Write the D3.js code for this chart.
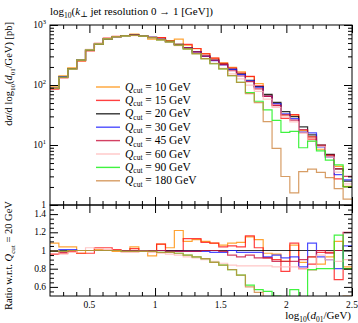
<!DOCTYPE html>
<html>
<head>
<meta charset="utf-8">
<script src="https://cdn.jsdelivr.net/npm/d3@7"></script>
<style>
  body { margin: 0; background: #fff; }
  text { font-family: "Liberation Serif", "DejaVu Serif", serif; fill: #000; }
</style>
</head>
<body>
<svg id="chart" width="358" height="323"></svg>
<script>
// log10(d01) binning: 34 equal bins between 0.2 and 2.5
const xDomain = [0.2, 2.5];
const nBins = 34;

// Qcut = 20 GeV reference histogram, dsigma/dlog10(d01) [pb]
const ref20 = [89, 136, 185, 260, 380, 480, 585, 640, 665, 680, 660, 620, 575, 535, 475, 420, 359, 303,
  260, 221, 182, 152, 120, 94, 70, 51.5, 36, 29.6, 20, 14.7, 10, 7, 4, 2.5];

// ratios w.r.t. Qcut = 20 GeV, read bin by bin
const ratio10 = [1.08, 1.04, 1.04, 0.97, 1.0, 1.01, 1.0, 0.99, 1.0, 1.04, 1.0, 0.94, 1.07, 1.03, 1.22, 1.10, 1.12,
  1.10, 1.08, 1.06, 1.08, 1.09, 1.15, 1.12, 0.97, 0.96, 0.88, 1.06, 0.87, 0.93, 0.85, 0.93, 1.1, 0.82];
const ratio15 = [0.96, 0.97, 0.99, 0.97, 0.97, 1.03, 1.03, 1.01, 1.0, 1.02, 0.99, 0.99, 1.07, 1.0, 1.0, 1.13, 1.13,
  1.09, 1.08, 1.04, 1.05, 1.04, 1.16, 1.03, 0.92, 0.9, 0.77, 1.08, 0.8, 0.85, 0.98, 0.98, 0.68, 0.8];
const ratio20 = ref20.map(() => 1);
const ratio30 = [1.0, 1.01, 1.01, 1.0, 1.0, 1.0, 1.0, 1.0, 1.0, 1.0, 1.0, 1.0, 1.0, 0.99, 0.99, 0.99, 0.99,
  0.99, 0.98, 0.98, 1.0, 0.98, 0.98, 0.98, 0.93, 0.95, 0.92, 0.93, 0.82, 1.08, 0.93, 0.9, 0.8, 1.05];
const ratio45 = [1.0, 0.98, 1.0, 1.0, 1.0, 1.0, 1.0, 1.0, 1.0, 1.0, 1.0, 1.0, 1.0, 0.99, 0.99, 0.99, 0.99,
  1.0, 1.0, 0.99, 0.95, 0.93, 0.95, 0.92, 0.92, 0.88, 0.88, 0.88, 0.9, 0.93, 1.0, 0.97, 1.0, 1.2];
const ratio60 = [1.0, 0.96, 0.98, 1.0, 1.03, 1.02, 1.01, 1.0, 0.98, 0.98, 0.99, 0.98, 0.97, 0.96, 0.95, 0.93, 0.92,
  0.9, 0.88, 0.86, 0.84, 0.83, 0.83, 0.83, 0.83, 0.82, 0.82, 0.82, 0.8, 0.78, 0.95, 0.9, 0.88, 0.9];
const ratio90 = [0.99, 0.99, 1.0, 1.0, 1.0, 1.0, 1.0, 1.0, 0.99, 0.99, 0.99, 0.99, 0.98, 0.98, 0.97, 0.95, 0.93,
  0.91, 0.87, 0.84, 0.79, 0.73, 0.62, 0.57, 0.55, 0.5, 0.45, 0.57, 0.45, 0.79, 0.8, 0.8, 1.17, 0.8];
const ratio180 = [0.99, 0.99, 1.0, 1.0, 1.0, 1.0, 1.0, 1.0, 0.99, 0.99, 0.99, 0.99, 0.98, 0.98, 0.97, 0.95, 0.93,
  0.91, 0.87, 0.84, 0.79, 0.73, 0.6, 0.54, 0.35, 0.17, 0.083, 0.054, 0.18, 0.27, 0.35, 0.41, 0.47, 0.5];

const qcutLabels = ["10", "15", "20", "30", "45", "60", "90", "180"];
const ratios = [ratio10, ratio15, ratio20, ratio30, ratio45, ratio60, ratio90, ratio180];
const colors = ["#ff8c00", "#ff1010", "#000000", "#2020ff", "#c8103c", "#ffb8b8", "#10f010", "#cd853f"];

const xTicks = [0.5, 1, 1.5, 2, 2.5];
const ratioTicks = [0.6, 0.8, 1, 1.2, 1.4];
const mainTicks = [1, 10, 100, 1000];

const left = 50, right = 352, mainTop = 25, mainBottom = 205, ratioBottom = 296;

const svg = d3.select("#chart");

const x = d3.scaleLinear().domain(xDomain).range([left, right]);
const yMain = d3.scaleLog().domain([1, 1000]).range([mainBottom, mainTop]);
const yRatio = d3.scaleLinear().domain([0.5, 1.5]).range([ratioBottom, mainBottom]);

const edges = d3.range(nBins + 1).map(i => xDomain[0] + i * (xDomain[1] - xDomain[0]) / nBins);

const defs = svg.append("defs");
defs.append("clipPath").attr("id", "clipMain").append("rect")
  .attr("x", left).attr("y", mainTop).attr("width", right - left).attr("height", mainBottom - mainTop);
defs.append("clipPath").attr("id", "clipRatio").append("rect")
  .attr("x", left).attr("y", mainBottom).attr("width", right - left).attr("height", ratioBottom - mainBottom);

const stepPoints = vals => vals.map((v, i) => [edges[i], v]).concat([[edges[nBins], vals[nBins - 1]]]);

const mainLine = d3.line().x(d => x(d[0])).y(d => yMain(Math.max(d[1], 0.5))).curve(d3.curveStepAfter);
const ratioLine = d3.line().x(d => x(d[0])).y(d => yRatio(d[1])).curve(d3.curveStepAfter);

const mainG = svg.append("g").attr("clip-path", "url(#clipMain)");
const ratioG = svg.append("g").attr("clip-path", "url(#clipRatio)");

ratios.forEach((r, k) => {
  const vals = r.map((v, i) => v * ref20[i]);
  mainG.append("path")
    .datum(stepPoints(vals))
    .attr("d", mainLine)
    .attr("fill", "none")
    .attr("stroke", colors[k])
    .attr("stroke-width", 1.2)
    .attr("stroke-opacity", 0.8);
  ratioG.append("path")
    .datum(stepPoints(r))
    .attr("d", ratioLine)
    .attr("fill", "none")
    .attr("stroke", colors[k])
    .attr("stroke-width", 1.2)
    .attr("stroke-opacity", 0.8);
});

// frames
svg.append("rect").attr("x", left).attr("y", mainTop).attr("width", right - left).attr("height", mainBottom - mainTop)
  .attr("fill", "none").attr("stroke", "#000").attr("stroke-width", 1);
svg.append("rect").attr("x", left).attr("y", mainBottom).attr("width", right - left).attr("height", ratioBottom - mainBottom)
  .attr("fill", "none").attr("stroke", "#000").attr("stroke-width", 1);

// axes helper: ticks only
const tickAxis = (axisFn, scale, values, size, tx, ty) => {
  const g = svg.append("g").attr("transform", `translate(${tx},${ty})`)
    .call(axisFn(scale).tickValues(values).tickSize(size).tickFormat(""));
  g.select(".domain").remove();
  g.selectAll("line").attr("stroke", "#000").attr("stroke-width", 1);
  return g;
};

const xMinor = d3.range(3, 25).map(i => i / 10).filter(v => !xTicks.includes(v));
// main panel top and bottom, ratio top and bottom
tickAxis(d3.axisBottom, x, xTicks, 8, 0, mainTop);
tickAxis(d3.axisBottom, x, xMinor, 4, 0, mainTop);
tickAxis(d3.axisTop, x, xTicks, 8, 0, mainBottom);
tickAxis(d3.axisTop, x, xMinor, 4, 0, mainBottom);
tickAxis(d3.axisBottom, x, xTicks, 8, 0, mainBottom);
tickAxis(d3.axisBottom, x, xMinor, 4, 0, mainBottom);
tickAxis(d3.axisTop, x, xTicks, 8, 0, ratioBottom);
tickAxis(d3.axisTop, x, xMinor, 4, 0, ratioBottom);

const logMinor = [];
[1, 10, 100].forEach(d => d3.range(2, 10).forEach(m => logMinor.push(d * m)));
tickAxis(d3.axisRight, yMain, mainTicks, 8, left, 0);
tickAxis(d3.axisRight, yMain, logMinor, 4, left, 0);
tickAxis(d3.axisLeft, yMain, mainTicks, 8, right, 0);
tickAxis(d3.axisLeft, yMain, logMinor, 4, right, 0);

const rMinor = d3.range(11, 30).map(i => i * 0.05).filter(v => !ratioTicks.some(t => Math.abs(t - v) < 1e-6));
tickAxis(d3.axisRight, yRatio, ratioTicks, 8, left, 0);
tickAxis(d3.axisRight, yRatio, rMinor, 4, left, 0);
tickAxis(d3.axisLeft, yRatio, ratioTicks, 8, right, 0);
tickAxis(d3.axisLeft, yRatio, rMinor, 4, right, 0);

// tick labels
mainTicks.forEach(d => {
  const t = svg.append("text").attr("x", left - 4).attr("y", yMain(d) + 3).attr("text-anchor", "end").attr("font-size", 9.5);
  if (d === 1) { t.text("1"); return; }
  t.append("tspan").text("10");
  t.append("tspan").attr("dy", -4).attr("font-size", 6.5).text(Math.round(Math.log10(d)));
});
ratioTicks.forEach(d => {
  svg.append("text").attr("x", left - 4).attr("y", yRatio(d) + 3).attr("text-anchor", "end").attr("font-size", 9.5)
    .text(d === 1 ? "1" : d3.format(".1f")(d));
});
xTicks.forEach(d => {
  svg.append("text").attr("x", x(d)).attr("y", 308).attr("text-anchor", "middle").attr("font-size", 9.5)
    .text(d3.format("")(d));
});

// title
const title = svg.append("text").attr("x", left).attr("y", 15).attr("font-size", 11);
title.append("tspan").text("log");
title.append("tspan").attr("dy", 3).attr("font-size", 7.5).text("10");
title.append("tspan").attr("dy", -3).text("(");
title.append("tspan").attr("font-style", "italic").text("k");
title.append("tspan").attr("dy", 2).attr("font-size", 8).text("⊥");
title.append("tspan").attr("dy", -2).text(" jet resolution 0 → 1 [GeV])");

// x label
const xl = svg.append("text").attr("x", right - 1).attr("y", 319).attr("text-anchor", "end").attr("font-size", 11);
xl.append("tspan").text("log");
xl.append("tspan").attr("dy", 3).attr("font-size", 7.5).text("10");
xl.append("tspan").attr("dy", -3).text("(");
xl.append("tspan").attr("font-style", "italic").text("d");
xl.append("tspan").attr("dy", 3).attr("font-size", 7.5).text("01");
xl.append("tspan").attr("dy", -3).text("/GeV)");

// y labels
const yl = svg.append("text").attr("transform", "translate(12,22) rotate(-90)").attr("text-anchor", "end").attr("font-size", 10.5);
yl.append("tspan").text("d");
yl.append("tspan").attr("font-style", "italic").text("σ");
yl.append("tspan").text("/d log");
yl.append("tspan").attr("dy", 3).attr("font-size", 7).text("10");
yl.append("tspan").attr("dy", -3).text("(");
yl.append("tspan").attr("font-style", "italic").text("d");
yl.append("tspan").attr("dy", 3).attr("font-size", 7).text("01");
yl.append("tspan").attr("dy", -3).text("/GeV) [pb]");

const rl = svg.append("text").attr("transform", "translate(12,310) rotate(-90)").attr("text-anchor", "start").attr("font-size", 10.5);
rl.append("tspan").text("Ratio w.r.t. ");
rl.append("tspan").attr("font-style", "italic").text("Q");
rl.append("tspan").attr("dy", 3).attr("font-size", 7).text("cut");
rl.append("tspan").attr("dy", -3).text(" = 20 GeV");

// legend
const legend = svg.append("g");
qcutLabels.forEach((q, k) => {
  const yy = 87 + k * 13.4;
  legend.append("line").attr("x1", 96).attr("x2", 120).attr("y1", yy).attr("y2", yy)
    .attr("stroke", colors[k]).attr("stroke-width", 1.4).attr("stroke-opacity", 0.8);
  const t = legend.append("text").attr("x", 125).attr("y", yy + 3.5).attr("font-size", 11.5);
  t.append("tspan").attr("font-style", "italic").text("Q");
  t.append("tspan").attr("dy", 2.5).attr("font-size", 7.5).text("cut");
  t.append("tspan").attr("dy", -2.5).text(` = ${q} GeV`);
});
</script>
</body>
</html>
